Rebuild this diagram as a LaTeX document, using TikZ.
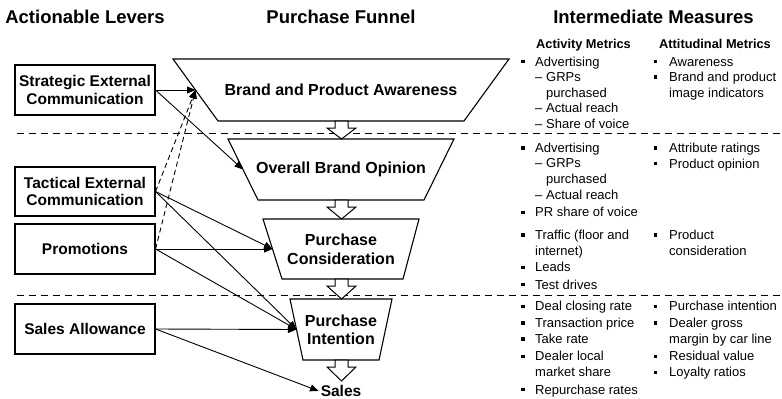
\documentclass[tikz,border=0pt]{standalone}
\usepackage{fontspec}
\setmainfont{Liberation Sans}
\usetikzlibrary{arrows.meta}
\newcommand\bsq{\rule[2.6pt]{3.6pt}{3.6pt}}
\newcommand\bulA{\llap{\bsq\hspace{10.3pt}}}
\newcommand\bulB{\llap{\bsq\hspace{12pt}}}
\newcommand\subI{\makebox[11pt][l]{–}}
\newcommand\blockarr[3]{%
  \draw[barrow] (335,#1) -- (348,#1) -- (348,#2) -- (356,#2) -- (341.5,#3) -- (327,#2) -- (335,#2) -- cycle;}
\begin{document}
\begin{tikzpicture}[x=1pt,y=-1pt,
  lever/.style={draw, line width=1.1pt, minimum width=140pt, minimum height=50pt, align=center,
    font=\fontsize{15.5}{17.3}\selectfont\bfseries, inner sep=0pt},
  ttl/.style={font=\fontsize{18.5}{20}\selectfont\bfseries, anchor=base, inner sep=0pt},
  ftxt/.style={font=\fontsize{16}{18.5}\selectfont\bfseries, align=center, inner sep=0pt},
  funnel/.style={draw, line width=1.1pt, fill=white},
  barrow/.style={draw, line width=1pt, fill=white},
  conn/.style={-{Triangle[length=8.5pt,width=7pt]}, line width=0.9pt},
  dconn/.style={conn, dash pattern=on 5pt off 3.5pt},
  sepline/.style={dash pattern=on 7pt off 5pt, line width=1pt},
  itm/.style={anchor=base west, inner sep=0pt, font=\fontsize{13}{15}\selectfont},
  hdr/.style={anchor=base west, inner sep=0pt, font=\fontsize{12.8}{15}\selectfont\bfseries}]
\useasboundingbox (0,0) rectangle (782,399);

% titles
\node[ttl] (t1) at (85,23.5) {Actionable Levers};
\node[ttl] (t2) at (341,23.5) {Purchase Funnel};
\node[ttl] (t3) at (653.5,23.5) {Intermediate Measures};

% separators
\draw[sepline] (17,133) -- (782,133);
\draw[sepline] (17,295) -- (782,295);

% levers
\node[lever] (strat) at (85,90) {Strategic External\\Communication};
\node[lever, minimum height=49pt] (tact) at (85,191.5) {Tactical External\\Communication};
\node[lever] (promo) at (85,249) {Promotions};
\node[lever] (allow) at (85,329) {Sales Allowance};

% funnel
\draw[funnel] (173,59) -- (509,59) -- (464,121) -- (218,121) -- cycle;
\coordinate (f1L) at (195.5,90);
\node[ftxt] (f1) at (341,90) {Brand and Product Awareness};

\draw[funnel] (228,139) -- (454,139) -- (424,200) -- (258,200) -- cycle;
\coordinate (f2L) at (243,169.5);
\node[ftxt] (f2) at (341,169.5) {Overall Brand Opinion};

\draw[funnel] (263,219) -- (419,219) -- (403,279) -- (282,279) -- cycle;
\coordinate (f3L) at (272.5,249);
\node[ftxt] (f3) at (341,249.5) {Purchase\\Consideration};

\draw[funnel] (290,299) -- (392,299) -- (379,360) -- (303,360) -- cycle;
\coordinate (f4L) at (296.5,329.5);
\node[ftxt] (f4) at (341,330) {Purchase\\Intention};

\node[font=\fontsize{15.5}{17}\selectfont\bfseries, anchor=base, inner sep=2pt] (sales) at (341,396.5) {Sales};

\blockarr{121}{128}{139}
\blockarr{200}{207}{219}
\blockarr{279}{286}{299}
\blockarr{360}{367}{381}

% connectors
\draw[conn] (strat.east) -- (f1L);
\draw[conn] (strat.east) -- (f2L);
\draw[dconn] (tact.east) -- (f1L);
\draw[dconn] (promo.east) -- (f1L);
\draw[conn] (tact.east) -- (f3L);
\draw[conn] (tact.east) -- (f4L);
\draw[conn] (promo.east) -- (f3L);
\draw[conn] (promo.east) -- (f4L);
\draw[conn] (allow.east) -- (f4L);
\draw[conn] (allow.east) -- (sales.west);

% metrics headers
\node[hdr] (h1) at (536,48) {Activity Metrics};
\node[hdr] (h2) at (659,48) {Attitudinal Metrics};

% section 1
\node[itm] (a1) at (535,66) {\bulA Advertising};
\node[itm] (a2) at (535,81.5) {\subI GRPs};
\node[itm] (a3) at (546,97) {purchased};
\node[itm] (a4) at (535,112.5) {\subI Actual reach};
\node[itm] (a5) at (535,128) {\subI Share of voice};
\node[itm] (b1) at (669,66) {\bulB Awareness};
\node[itm] (b2) at (669,81.5) {\bulB Brand and product};
\node[itm] (b3) at (669,97) {image indicators};

% section 2
\node[itm] (a6) at (535,152.3) {\bulA Advertising};
\node[itm] (a7) at (535,167.7) {\subI GRPs};
\node[itm] (a8) at (546,183.3) {purchased};
\node[itm] (a9) at (535,199) {\subI Actual reach};
\node[itm] (a10) at (535,216.7) {\bulA PR share of voice};
\node[itm] (b4) at (669,152.3) {\bulB Attribute ratings};
\node[itm] (b5) at (669,168) {\bulB Product opinion};

% section 3
\node[itm] (a11) at (535,239.3) {\bulA Traffic (floor and};
\node[itm] (a12) at (535,255) {internet)};
\node[itm] (a13) at (535,271.7) {\bulA Leads};
\node[itm] (a14) at (535,289) {\bulA Test drives};
\node[itm] (b6) at (669,239.3) {\bulB Product};
\node[itm] (b7) at (669,255) {consideration};

% section 4
\node[itm] (a15) at (535,310.7) {\bulA Deal closing rate};
\node[itm] (a16) at (535,327.3) {\bulA Transaction price};
\node[itm] (a17) at (535,343.3) {\bulA Take rate};
\node[itm] (a18) at (535,360.7) {\bulA Dealer local};
\node[itm] (a19) at (535,376.7) {market share};
\node[itm] (a20) at (535,394) {\bulA Repurchase rates};
\node[itm] (b8) at (669,310.7) {\bulB Purchase intention};
\node[itm] (b9) at (669,327.3) {\bulB Dealer gross};
\node[itm] (b10) at (669,343.3) {margin by car line};
\node[itm] (b11) at (669,360.7) {\bulB Residual value};
\node[itm] (b12) at (669,376.7) {\bulB Loyalty ratios};
\end{tikzpicture}
\end{document}
